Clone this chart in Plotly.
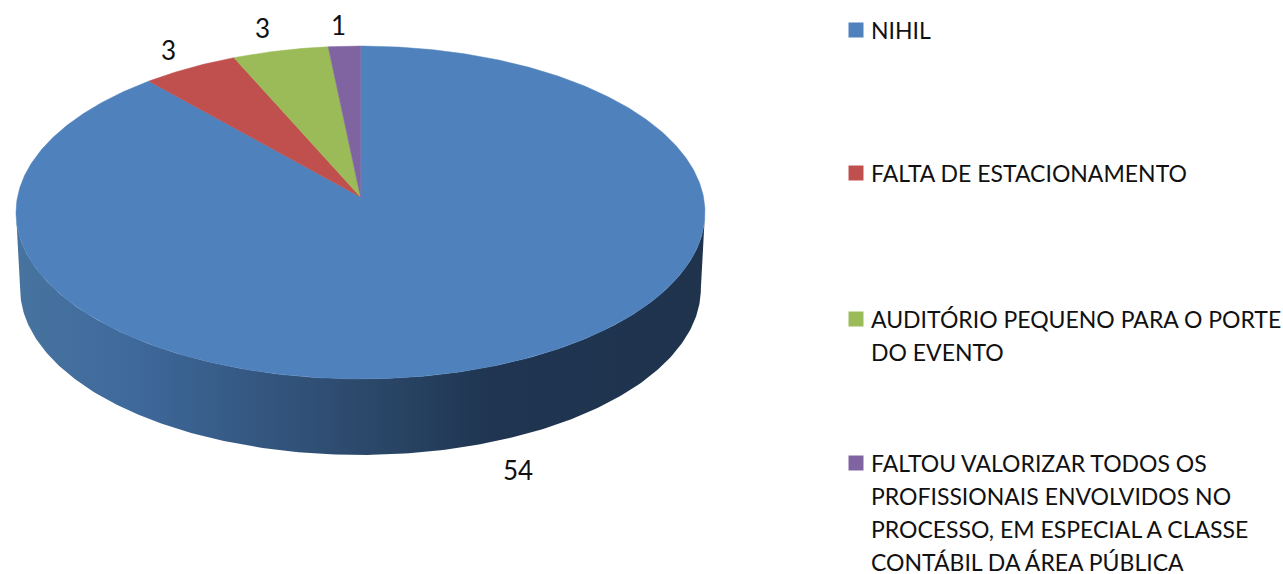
import numpy as np
import plotly.graph_objects as go

categories = ["NIHIL", "FALTA DE ESTACIONAMENTO", "AUDITÓRIO PEQUENO PARA O PORTE<br>DO EVENTO",
              "FALTOU VALORIZAR TODOS OS<br>PROFISSIONAIS ENVOLVIDOS NO<br>PROCESSO, EM ESPECIAL A CLASSE<br>CONTÁBIL DA ÁREA PÚBLICA"]
values = [54, 3, 3, 1]
colors = ["#4F81BD", "#C0504D", "#9BBB59", "#8064A2"]

CX, CY, SX, SY, K, DEPTH = 360.5, 197.0, 343.0, 165.0, 0.0931, 76.0
BOTTOM_SCALE = 0.988
FONT = dict(family="Lato", size=23, color="#111111")
NUM_FONT = dict(family="Lato", size=26, color="#111111")
legend_y = [30, 173, 319, 463]
legend_tx = 871
legend_mx = 856
line_step = 33.0
label_pos = [(518, 470), (168, 50), (262, 28), (338, 25)]


def pt(theta):
    u, v = np.sin(theta), np.cos(theta)
    d = 1 + K * v
    return CX + SX * u / d, CY - SY * v / d


fig = go.Figure()
# side wall: front half of the rim, extruded downward and slightly narrowed
t0 = np.arccos(-K)
th = np.linspace(t0, 2 * np.pi - t0, 240)
ex, ey = pt(th)
bx = CX + (ex - CX) * BOTTOM_SCALE
by = ey + DEPTH
fig.add_trace(go.Scatter(
    x=np.r_[ex, bx[::-1]], y=np.r_[ey, by[::-1]], mode="lines", fill="toself",
    line=dict(width=0), hoverinfo="skip", showlegend=False,
    fillgradient=dict(type="horizontal", colorscale=[
        [0, "#47739F"], [0.16, "#3F6A9C"], [0.32, "#365A85"], [0.53, "#2A4667"],
        [0.69, "#1F3551"], [1, "#1F334D"]]),
))
# top slices, clockwise from 12 o'clock
total = sum(values)
start = 0.0
for name, val, col in zip(categories, values, colors):
    end = start + val / total * 2 * np.pi
    t = np.linspace(start, end, max(int(val * 12), 30))
    x, y = pt(t)
    fig.add_trace(go.Scatter(
        x=np.r_[CX, x, CX], y=np.r_[CY, y, CY], mode="lines", fill="toself", fillcolor=col,
        line=dict(width=0.5, color=col), hoverinfo="text", text=str(val), showlegend=False,
    ))
    start = end

# legend
for name, col, ly in zip(categories, colors, legend_y):
    fig.add_trace(go.Scatter(x=[legend_mx], y=[ly], mode="markers",
                             marker=dict(symbol="square", size=15, color=col, line=dict(width=0)),
                             hoverinfo="skip", showlegend=False))
    for i, line in enumerate(name.split("<br>")):
        fig.add_annotation(x=legend_tx, y=ly + i * line_step, text=line, showarrow=False,
                           xanchor="left", yanchor="middle", align="left", xshift=-2, font=FONT)
# data labels
for val, (lx, ly) in zip(values, label_pos):
    fig.add_annotation(x=lx, y=ly, text=str(val), showarrow=False, font=NUM_FONT)

fig.update_xaxes(range=[0, 1283], visible=False, fixedrange=True)
fig.update_yaxes(range=[574, 0], visible=False, fixedrange=True)
fig.update_layout(width=1283, height=574, margin=dict(l=0, r=0, t=0, b=0),
                  paper_bgcolor="white", plot_bgcolor="white", showlegend=False)
fig.write_html("out.html", config=dict(displayModeBar=False),
               post_script="document.body.style.margin='0';")
